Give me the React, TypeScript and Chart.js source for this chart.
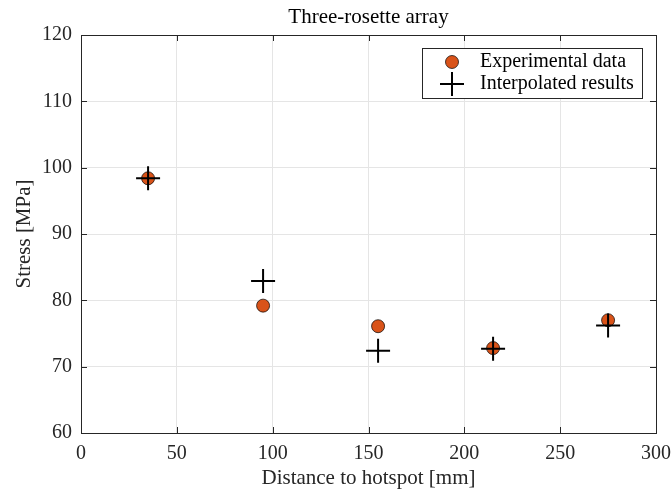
import React, { useEffect, useRef } from "react";
import { Chart, registerables } from "chart.js";

Chart.register(...registerables);

const distances = [35, 95, 155, 215, 275];
const experimental = [98.4, 79.2, 76.1, 72.8, 77.0];
const interpolated = [98.4, 82.9, 72.4, 72.7, 76.2];
const titleText = "Three-rosette array";
const xLabel = "Distance to hotspot [mm]";
const yLabel = "Stress [MPa]";
const legendLabels = ["Experimental data", "Interpolated results"];

const FONT = "'Liberation Serif', 'DejaVu Serif', serif";
const AXIS = "#262626";
const LABEL_SIZE = 21;
const LEGEND_SIZE = 20;
const TICK_SIZE = 20;

export default function App() {
  const ref = useRef<HTMLCanvasElement>(null);
  useEffect(() => {
    if (!ref.current) return;
    const decor = {
      id: "decor",
      afterDraw(chart: any) {
        const ctx = chart.ctx;
        const a = chart.chartArea;
        const xs = chart.scales.x;
        const ys = chart.scales.y;
        ctx.save();
        ctx.strokeStyle = AXIS;
        ctx.lineWidth = 1;
        ctx.strokeRect(Math.round(a.left) + 0.5, Math.round(a.top) + 0.5, Math.round(a.right - a.left), Math.round(a.bottom - a.top));
        const tl = 6;
        ctx.beginPath();
        for (let v = 0; v <= 300; v += 50) {
          const px = Math.round(xs.getPixelForValue(v)) + 0.5;
          ctx.moveTo(px, a.bottom); ctx.lineTo(px, a.bottom - tl);
          ctx.moveTo(px, a.top); ctx.lineTo(px, a.top + tl);
        }
        for (let v = 60; v <= 120; v += 10) {
          const py = Math.round(ys.getPixelForValue(v)) + 0.5;
          ctx.moveTo(a.left, py); ctx.lineTo(a.left + tl, py);
          ctx.moveTo(a.right, py); ctx.lineTo(a.right - tl, py);
        }
        ctx.stroke();
        ctx.fillStyle = "#000";
        ctx.font = `${LABEL_SIZE}px ${FONT}`;
        ctx.textAlign = "center";
        ctx.textBaseline = "middle";
        ctx.fillText(titleText, (a.left + a.right) / 2, 17);
        ctx.fillStyle = AXIS;
        ctx.fillText(xLabel, (a.left + a.right) / 2, 478);
        ctx.save();
        ctx.translate(24, (a.top + a.bottom) / 2);
        ctx.rotate(-Math.PI / 2);
        ctx.fillText(yLabel, 0, 0);
        ctx.restore();
        const lx = 422, ly = 48, lw = 220, lh = 50;
        ctx.fillStyle = "#fff";
        ctx.fillRect(lx, ly, lw, lh);
        ctx.strokeStyle = AXIS;
        ctx.lineWidth = 1;
        ctx.strokeRect(lx + 0.5, ly + 0.5, lw, lh);
        ctx.beginPath();
        ctx.arc(452, 62, 6.5, 0, Math.PI * 2);
        ctx.fillStyle = "#D95319";
        ctx.fill();
        ctx.strokeStyle = "#000";
        ctx.lineWidth = 0.7;
        ctx.stroke();
        ctx.beginPath();
        ctx.moveTo(440, 84); ctx.lineTo(464, 84);
        ctx.moveTo(452, 72); ctx.lineTo(452, 96);
        ctx.lineWidth = 2;
        ctx.strokeStyle = "#000";
        ctx.stroke();
        ctx.fillStyle = "#000";
        ctx.textAlign = "left";
        ctx.font = `${LEGEND_SIZE}px ${FONT}`;
        ctx.fillText(legendLabels[0], 480, 62);
        ctx.fillText(legendLabels[1], 480, 84);
        ctx.restore();
      },
    };
    const chart = new Chart(ref.current, {
      type: "scatter",
      data: {
        datasets: [
          {
            label: legendLabels[0],
            data: distances.map((x, i) => ({ x, y: experimental[i] })),
            pointStyle: "circle",
            pointRadius: 6.5,
            pointBackgroundColor: "#D95319",
            pointBorderColor: "#000",
            pointBorderWidth: 0.7,
            order: 2,
          },
          {
            label: legendLabels[1],
            data: distances.map((x, i) => ({ x, y: interpolated[i] })),
            pointStyle: "cross",
            pointRadius: 12,
            pointBorderColor: "#000",
            pointBackgroundColor: "#000",
            pointBorderWidth: 2,
            order: 1,
          },
        ],
      },
      options: {
        animation: false,
        responsive: false,
        devicePixelRatio: 1,
        layout: { padding: { top: 35, right: 16, left: 0, bottom: 0 } },
        plugins: { legend: { display: false }, title: { display: false }, tooltip: { enabled: false } },
        scales: {
          x: {
            type: "linear",
            min: 0,
            max: 300,
            afterFit: (s: any) => { s.height = 59; s.paddingLeft = 0; s.paddingRight = 0; },
            grid: { color: "#e5e5e5", drawTicks: false, lineWidth: 1 },
            border: { display: false },
            ticks: { stepSize: 50, color: AXIS, font: { family: FONT, size: TICK_SIZE }, padding: 9, maxRotation: 0 },
          },
          y: {
            type: "linear",
            min: 60,
            max: 120,
            afterFit: (s: any) => { s.width = 81; s.paddingTop = 0; s.paddingBottom = 0; },
            grid: { color: "#e5e5e5", drawTicks: false, lineWidth: 1 },
            border: { display: false },
            ticks: { stepSize: 10, color: AXIS, font: { family: FONT, size: TICK_SIZE }, padding: 9 },
          },
        },
      },
      plugins: [decor],
    });
    return () => chart.destroy();
  }, []);
  return (
    <div style={{ position: "fixed", left: 0, top: 0, width: 672, height: 492, background: "#fff" }}>
      <canvas ref={ref} width={672} height={492} style={{ width: 672, height: 492 }} />
    </div>
  );
}
